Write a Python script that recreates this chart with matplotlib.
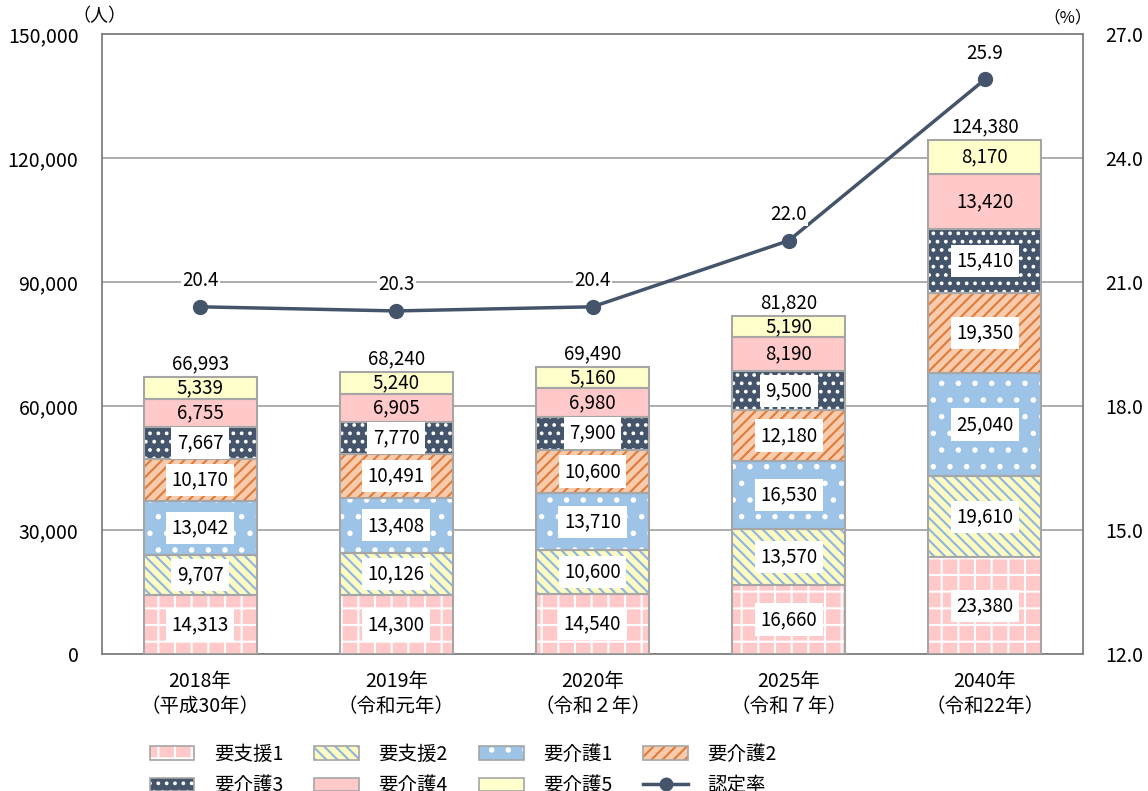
import matplotlib.pyplot as plt
from matplotlib.patches import Patch
from matplotlib.lines import Line2D
from matplotlib.legend_handler import HandlerTuple

plt.rcParams['font.family'] = ['Noto Sans CJK JP', 'DejaVu Sans']
plt.rcParams['hatch.linewidth'] = 1.5

years = ["2018年\n（平成30年）", "2019年\n（令和元年）", "2020年\n（令和２年）",
         "2025年\n（令和７年）", "2040年\n（令和22年）"]
levels = ["要支援1", "要支援2", "要介護1", "要介護2", "要介護3", "要介護4", "要介護5"]
support1 = [14313, 14300, 14540, 16660, 23380]
support2 = [9707, 10126, 10600, 13570, 19610]
care1 = [13042, 13408, 13710, 16530, 25040]
care2 = [10170, 10491, 10600, 12180, 19350]
care3 = [7667, 7770, 7900, 9500, 15410]
care4 = [6755, 6905, 6980, 8190, 13420]
care5 = [5339, 5240, 5160, 5190, 8170]
totals = [66993, 68240, 69490, 81820, 124380]
rate = [20.4, 20.3, 20.4, 22.0, 25.9]

series = [support1, support2, care1, care2, care3, care4, care5]
# fill colour, hatch pattern, hatch colour, boxed label
styles = [
    ("#ffc9c9", "+", "white", True),
    ("#fdfbc0", "\\\\\\", "#8db4e2", True),
    ("#9dc3e6", ".", "white", True),
    ("#f8cbad", "///", "#e07b39", True),
    ("#44546a", "..", "white", True),
    ("#ffc9c9", None, None, False),
    ("#ffffcc", None, None, False),
]
edge = "#a6a6a6"
line_color = "#44546a"

fig = plt.figure(figsize=(11.48, 7.91), dpi=100)
ax = fig.add_axes([102 / 1148, 1 - 654 / 791, 981 / 1148, 620 / 791])
x = list(range(len(years)))
width = 0.575

bottoms = [0] * len(years)
handles = []
for name, vals, (fc, hatch, hc, boxed) in zip(levels, series, styles):
    ax.bar(x, vals, width, bottom=bottoms, color=fc, linewidth=0, zorder=2)
    parts = [Patch(facecolor=fc, edgecolor="none")]
    if hatch:
        ax.bar(x, vals, width, bottom=bottoms, fill=False, hatch=hatch,
               edgecolor=hc, linewidth=0, zorder=3)
        parts.append(Patch(fill=False, hatch=hatch, edgecolor=hc, linewidth=0))
    ax.bar(x, vals, width, bottom=bottoms, fill=False, edgecolor=edge,
           linewidth=1.5, zorder=4)
    parts.append(Patch(fill=False, edgecolor=edge, linewidth=1.2))
    handles.append(tuple(parts))
    for xi, v, b in zip(x, vals, bottoms):
        box = dict(facecolor="white", edgecolor="none", pad=4) if boxed else None
        ax.text(xi, b + v / 2, f"{v:,}", ha="center", va="center",
                fontsize=13.5, bbox=box, zorder=5)
    bottoms = [b + v for b, v in zip(bottoms, vals)]

for xi, t in zip(x, totals):
    ax.annotate(f"{t:,}", (xi, t), xytext=(0, 2), textcoords="offset points",
                ha="center", va="bottom", fontsize=13.5)

ax.set_xlim(-0.5, len(years) - 0.5)
ax.set_ylim(0, 150000)
ax.set_yticks(range(0, 150001, 30000))
ax.set_yticklabels([f"{v:,}" for v in range(0, 150001, 30000)])
ax.set_xticks(x)
ax.set_xticklabels(years, fontsize=14, linespacing=1.25)
ax.tick_params(axis="both", length=0, labelsize=14)
ax.tick_params(axis="x", pad=12)
ax.tick_params(axis="y", pad=17)
ax.grid(axis="y", color="#a0a0a0", linewidth=1.2, zorder=0)
ax.set_axisbelow(True)
for s in ax.spines.values():
    s.set_color("#808080")
    s.set_linewidth(1.3)

ax2 = ax.twinx()
ax2.set_ylim(12, 27)
ax2.set_yticks([12, 15, 18, 21, 24, 27])
ax2.set_yticklabels([f"{v:.1f}" for v in [12, 15, 18, 21, 24, 27]])
ax2.tick_params(axis="y", length=0, labelsize=14, pad=16)
for s in ax2.spines.values():
    s.set_visible(False)
ax2.plot(x, rate, color=line_color, linewidth=2.5, marker="o", markersize=10,
         zorder=3)
for xi, r in zip(x, rate):
    ax2.annotate(f"{r:.1f}", (xi, r), xytext=(0, 19), textcoords="offset points",
                 ha="center", va="center", fontsize=13.5, zorder=5,
                 bbox=dict(facecolor="white", edgecolor="none", pad=1))

fig.text(72 / 1148, 1 - 16 / 791, "（人）", fontsize=13, va="center")
fig.text(1043 / 1148, 1 - 18 / 791, "（%）", fontsize=12, va="center")

rate_handle = Line2D([], [], color=line_color, linewidth=2.5, marker="o",
                     markersize=9)
all_handles = handles + [rate_handle]
all_labels = levels + ["認定率"]
order = [0, 4, 1, 5, 2, 6, 3, 7]
fig.legend([all_handles[i] for i in order], [all_labels[i] for i in order],
           handler_map={tuple: HandlerTuple(ndivide=1, pad=0)},
           ncol=4, loc="upper left", bbox_to_anchor=(132 / 1148, 1 - 726 / 791),
           frameon=False, fontsize=14, handlelength=2.3, handleheight=0.7,
           handletextpad=1.0, columnspacing=1.6, labelspacing=0.55)

fig.savefig("out.png", dpi=100)
